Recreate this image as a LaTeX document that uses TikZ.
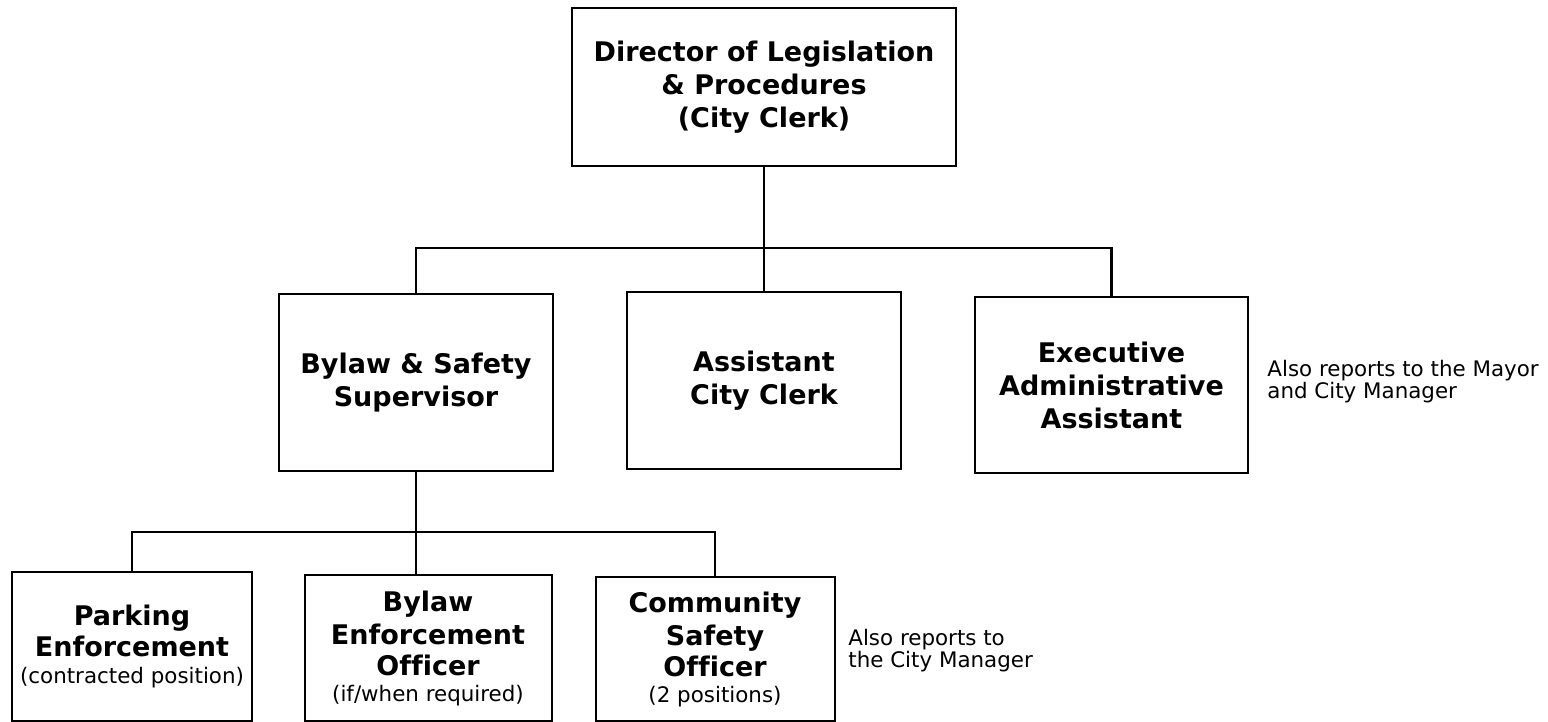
\documentclass[tikz,border=0pt]{standalone}
\usepackage{fontspec}
\setmainfont[Ligatures=CommonOff]{DejaVu Sans}
\newcommand{\subline}[1]{{\fontsize{10.7}{13}\selectfont\mdseries #1}}
\begin{document}
\begin{tikzpicture}[x=0.5pt,y=-0.5pt]
	\tikzstyle{every node}=[font=\fontsize{13.5}{16.5}\selectfont\bfseries, align=center, inner sep=0pt]
	\tikzstyle{post}=[draw, line width=1pt]
	\tikzstyle{link}=[line width=1.3pt]
	\tikzstyle{note}=[font=\fontsize{10.7}{11}\selectfont\mdseries, align=left, anchor=west]

	\useasboundingbox (0,0) rectangle (1548,722);

	\node [post, minimum width=192pt, minimum height=79pt] (dir) at (764,87) {Director of Legislation\\ \& Procedures\\ (City Clerk)};
	\node [post, minimum width=137pt, minimum height=88.5pt] (sup) at (416,382.5) {Bylaw \& Safety\\ Supervisor};
	\node [post, minimum width=137pt, minimum height=88.5pt] (asst) at (764,380.5) {Assistant\\ City Clerk};
	\node [post, minimum width=136.5pt, minimum height=88pt] (exec) at (1111.5,385) {Executive\\ Administrative\\ Assistant};
	\node [post, minimum width=120pt, minimum height=74.5pt] (park) at (132,646.5) {Parking\\[-1pt] Enforcement\\[-3pt] \subline{(contracted position)}};
	\node [post, minimum width=123.5pt, minimum height=73pt] (beo) at (428,648) {Bylaw\\ Enforcement\\[-1pt] Officer\\[-3.5pt] \subline{(if/when required)}};
	\node [post, minimum width=119.5pt, minimum height=72pt] (cso) at (715,649) {Community\\ Safety\\[-1pt] Officer\\[-3.5pt] \subline{(2 positions)}};

	\node [note] (mayor) at (1267,382) {Also reports to the Mayor\\ and City Manager};
	\node [note] (mgr) at (848,651) {Also reports to\\ the City Manager};

	\coordinate (bar1) at (0,248);
	\coordinate (bar2) at (0,532);

	\draw [link] (dir.south) to (asst.north);
	\draw [link] (sup.north) -- (sup.north |- bar1) -- (exec.north |- bar1) -- (exec.north);
	\draw [link] (sup.south) -- (sup.south |- beo.north);
	\draw [link] (park.north) -- (park.north |- bar2) -- (cso.north |- bar2) -- (cso.north);

\end{tikzpicture}
\end{document}
